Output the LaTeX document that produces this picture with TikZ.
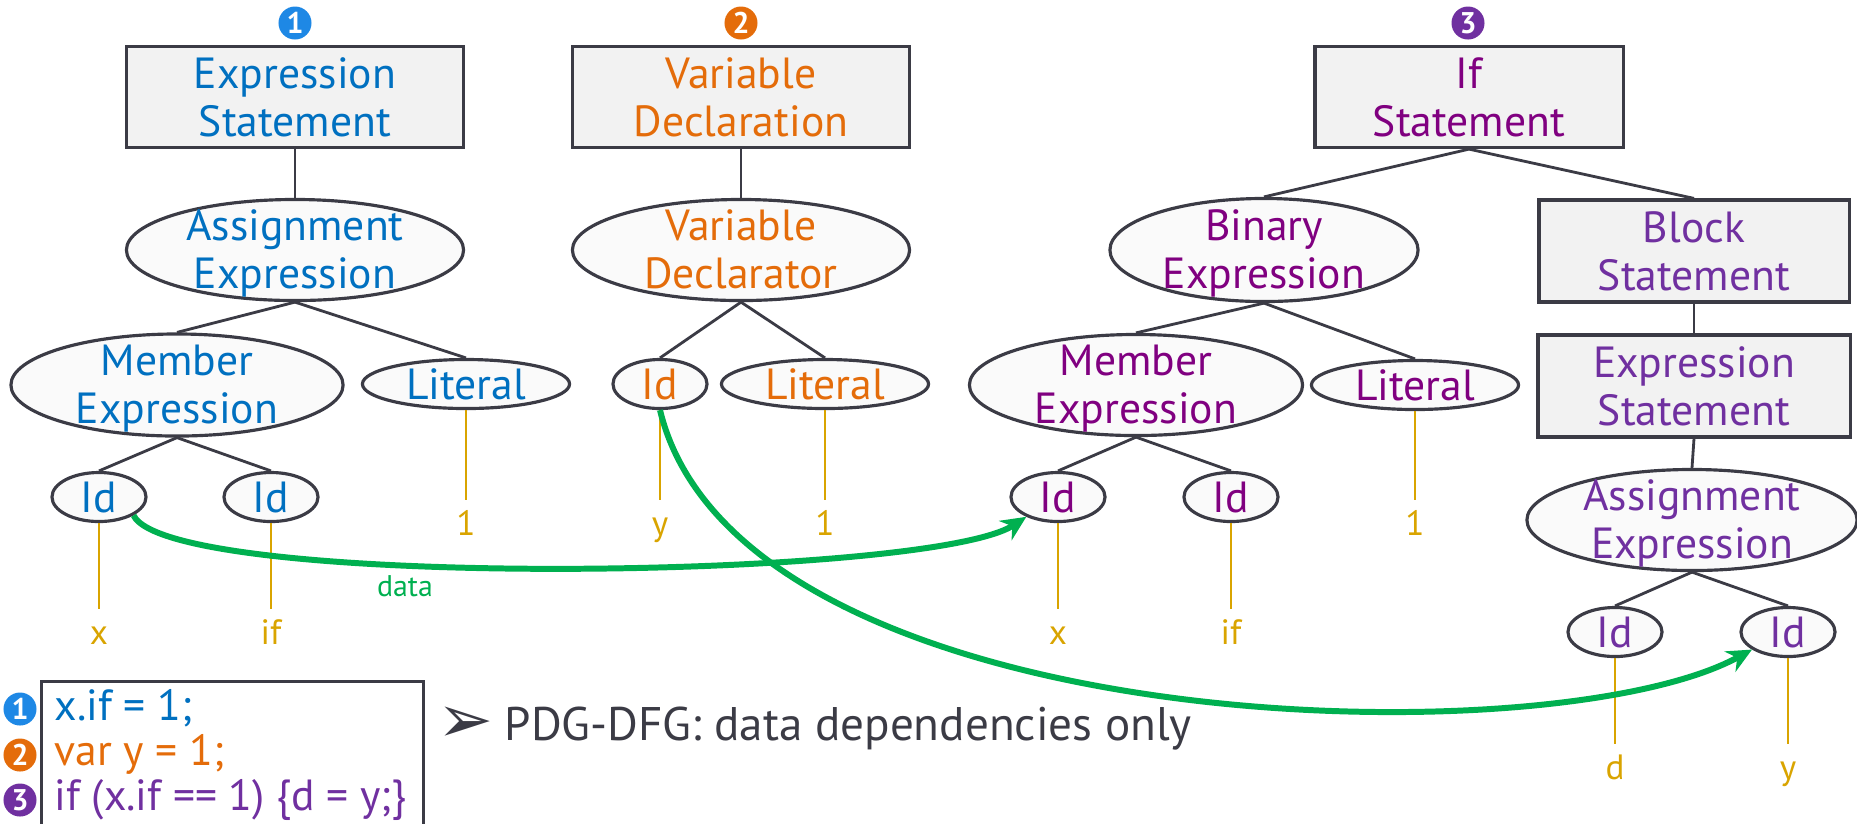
\documentclass[tikz,border=0pt]{standalone}
\usepackage{fontspec}
\setmainfont{PT Sans}
\newfontfamily\symfont{DejaVu Sans}
\usetikzlibrary{shapes.geometric,arrows.meta}

\definecolor{blueA}{HTML}{0070C0}
\definecolor{orangeA}{HTML}{E46C0A}
\definecolor{magA}{HTML}{800080}
\definecolor{purpA}{HTML}{7030A0}
\definecolor{numblue}{HTML}{1E88E5}
\definecolor{gold}{HTML}{D9A400}
\definecolor{dgreen}{HTML}{00B050}
\definecolor{edgec}{HTML}{3B3B45}
\definecolor{boxf}{HTML}{F2F2F2}
\definecolor{ovalf}{HTML}{FAFAFA}

\newcommand{\nodefont}{\fontsize{12.4pt}{13.7pt}\selectfont}
\newcommand{\lone}[1]{\raisebox{-.35em}[0pt][0pt]{#1}}
\newcommand{\ltwo}[2]{\raisebox{-.36em}[0pt][0pt]{\begin{tabular}{@{}c@{}}#1\\#2\end{tabular}}}

\tikzset{
  box/.style={draw=edgec, fill=boxf, line width=0.9pt, rectangle, minimum height=1.01cm, inner sep=0pt, font=\nodefont, align=center},
  oval/.style={draw=edgec, fill=ovalf, line width=0.9pt, ellipse, inner sep=0pt, font=\nodefont},
  idnode/.style={oval, minimum width=0.94cm, minimum height=0.49cm},
  litnode/.style={oval, minimum width=2.07cm, minimum height=0.49cm},
  tree/.style={draw=edgec, line width=0.8pt},
  leafline/.style={draw=gold, line width=0.7pt},
  leaf/.style={text=gold, font=\fontsize{10pt}{11pt}\selectfont, anchor=north, inner xsep=0pt, inner ysep=0.1cm, text height=0.25cm, text depth=0.05cm},
  dataflow/.style={draw=dgreen, line width=1.7pt, -{Stealth[length=2.5mm,width=2.3mm]}},
  numc/.style={circle, inner sep=0pt, minimum size=0.33cm, text=white, font=\bfseries\fontsize{8.5pt}{9pt}\selectfont},
  codeline/.style={anchor=base west, inner sep=0pt, font=\fontsize{12.4pt}{14pt}\selectfont},
}

\begin{document}
\begin{tikzpicture}[x=0.01cm, y=-0.01cm]
  \useasboundingbox (0,0) rectangle (1857,823);

  % statement 1
  \node[numc, fill=numblue] (n1) at (295,23) {1};
  \node[box, text=blueA, minimum width=3.37cm] (es1) at (295,97) {Expression\\Statement};
  \node[oval, text=blueA, minimum width=3.37cm, minimum height=1.01cm] (ae1) at (295,250) {\ltwo{Assignment}{Expression}};
  \node[oval, text=blueA, minimum width=3.32cm, minimum height=1.02cm] (me1) at (177,385) {\ltwo{Member}{Expression}};
  \node[litnode, text=blueA] (lit1) at (466,384) {\lone{Literal}};
  \node[idnode, text=blueA] (id1x) at (99,497) {\lone{Id}};
  \node[idnode, text=blueA] (id1if) at (271,497) {\lone{Id}};

  % statement 2
  \node[numc, fill=orangeA] (n2) at (741,23) {2};
  \node[box, text=orangeA, minimum width=3.37cm] (vd2) at (741,97) {Variable\\Declaration};
  \node[oval, text=orangeA, minimum width=3.37cm, minimum height=1.01cm] (vdr2) at (741,250) {\ltwo{Variable}{Declarator}};
  \node[idnode, text=orangeA] (id2y) at (660,384) {\lone{Id}};
  \node[litnode, text=orangeA] (lit2) at (825,384) {\lone{Literal}};

  % statement 3
  \node[numc, fill=purpA] (n3) at (1468,23) {3};
  \node[box, text=magA, minimum width=3.08cm] (if3) at (1469,97) {If\\Statement};
  \node[oval, text=magA, minimum width=3.08cm, minimum height=1.03cm] (be3) at (1264,250) {\ltwo{Binary}{Expression}};
  \node[box, text=purpA, minimum width=3.10cm, minimum height=1.02cm] (bs3) at (1694,251) {Block\\Statement};
  \node[oval, text=magA, minimum width=3.33cm, minimum height=1.01cm] (me3) at (1136,385) {\ltwo{Member}{Expression}};
  \node[litnode, text=magA] (lit3) at (1415,385) {\lone{Literal}};
  \node[box, text=purpA, minimum width=3.12cm, minimum height=1.02cm] (es3) at (1694,386) {Expression\\Statement};
  \node[idnode, text=magA] (id3x) at (1058,497) {\lone{Id}};
  \node[idnode, text=magA] (id3if) at (1231,497) {\lone{Id}};
  \node[oval, text=purpA, minimum width=3.30cm, minimum height=1.01cm] (ae3) at (1692,520) {\ltwo{Assignment}{Expression}};
  \node[idnode, text=purpA] (id3d) at (1615,632) {\lone{Id}};
  \node[idnode, text=purpA] (id3y) at (1788,632) {\lone{Id}};

  % leaves
  \node[leaf] (l1x) at (99,609) {x};
  \node[leaf] (l1if) at (271,609) {if};
  \node[leaf] (l1one) at (466,500) {1};
  \node[leaf] (l2y) at (660,500) {y};
  \node[leaf] (l2one) at (825,500) {1};
  \node[leaf] (l3x) at (1058,609) {x};
  \node[leaf] (l3if) at (1231,609) {if};
  \node[leaf] (l3one) at (1415,500) {1};
  \node[leaf] (l3d) at (1615,744) {d};
  \node[leaf] (l3y) at (1788,744) {y};

  % tree edges
  \draw[tree] (es1.south) -- (ae1.north);
  \draw[tree] (ae1.south) -- (me1.north);
  \draw[tree] (ae1.south) -- (lit1.north);
  \draw[tree] (me1.south) -- (id1x.north);
  \draw[tree] (me1.south) -- (id1if.north);
  \draw[tree] (vd2.south) -- (vdr2.north);
  \draw[tree] (vdr2.south) -- (id2y.north);
  \draw[tree] (vdr2.south) -- (lit2.north);
  \draw[tree] (if3.south) -- (be3.north);
  \draw[tree] (if3.south) -- (bs3.north);
  \draw[tree] (be3.south) -- (me3.north);
  \draw[tree] (be3.south) -- (lit3.north);
  \draw[tree] (me3.south) -- (id3x.north);
  \draw[tree] (me3.south) -- (id3if.north);
  \draw[tree] (bs3.south) -- (es3.north);
  \draw[tree] (es3.south) -- (ae3.north);
  \draw[tree] (ae3.south) -- (id3d.north);
  \draw[tree] (ae3.south) -- (id3y.north);

  \draw[leafline] (id1x.south) -- (l1x.north);
  \draw[leafline] (id1if.south) -- (l1if.north);
  \draw[leafline] (lit1.south) -- (l1one.north);
  \draw[leafline] (id2y.south) -- (l2y.north);
  \draw[leafline] (lit2.south) -- (l2one.north);
  \draw[leafline] (id3x.south) -- (l3x.north);
  \draw[leafline] (id3if.south) -- (l3if.north);
  \draw[leafline] (lit3.south) -- (l3one.north);
  \draw[leafline] (id3d.south) -- (l3d.north);
  \draw[leafline] (id3y.south) -- (l3y.north);

  % data edges
  \draw[dataflow] (id1x.-28) .. controls (170,590) and (930,580) .. (id3x.212);
  \draw[dataflow] (id2y.south) .. controls (740,740) and (1550,760) .. (id3y.206);
  \node[text=dgreen, font=\fontsize{8.5pt}{9pt}\selectfont] (dlab) at (405,586) {data};

  % code
  \node[draw=edgec, line width=0.9pt, anchor=north west, minimum width=3.82cm, minimum height=1.5cm] (code) at (40,680) {};
  \node[numc, fill=numblue] (cn1) at (20,709) {1};
  \node[numc, fill=orangeA] (cn2) at (20,755) {2};
  \node[numc, fill=purpA] (cn3) at (20,800) {3};
  \node[codeline, text=blueA] (c1) at (54,720) {x.if = 1;};
  \node[codeline, text=orangeA] (c2) at (54,765) {var y = 1;};
  \node[codeline, text=purpA] (c3) at (54,810) {if (x.if == 1) \{d = y;\}};

  \node[text=edgec, font=\symfont\fontsize{19pt}{20pt}\selectfont, inner sep=0pt] (bul) at (465,725) {➢};
  \node[anchor=base west, inner sep=0pt, text=edgec, font=\fontsize{13.4pt}{15pt}\selectfont] (pdg) at (504,740) {PDG-DFG: data dependencies only};
\end{tikzpicture}
\end{document}
